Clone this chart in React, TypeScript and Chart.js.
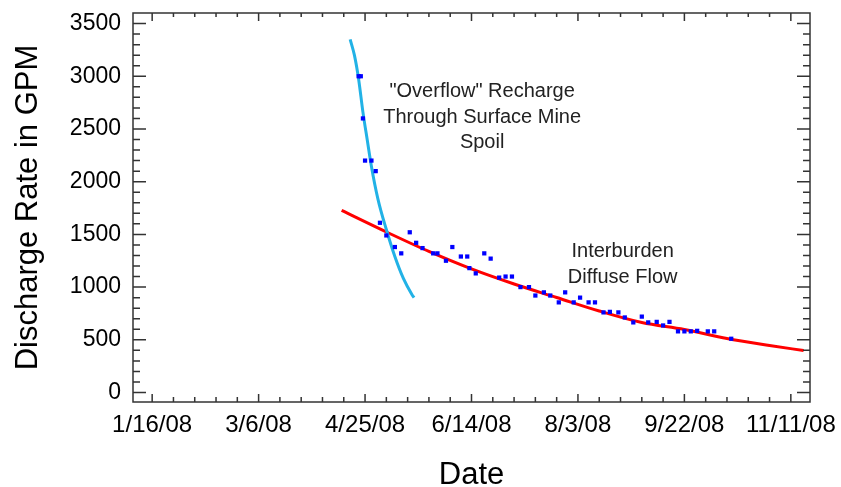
import React, { useEffect, useRef } from "react";
import { Chart, registerables } from "chart.js";

Chart.register(...registerables);

// Measured discharge (date, GPM)
const measuredDates = [
  "2008-04-22", "2008-04-23", "2008-04-24", "2008-04-25", "2008-04-28", "2008-04-30",
  "2008-05-02", "2008-05-05", "2008-05-09", "2008-05-12", "2008-05-16", "2008-05-19",
  "2008-05-22", "2008-05-27", "2008-05-29", "2008-06-02", "2008-06-05", "2008-06-09",
  "2008-06-12", "2008-06-13", "2008-06-16", "2008-06-20", "2008-06-23", "2008-06-27",
  "2008-06-30", "2008-07-03", "2008-07-07", "2008-07-11", "2008-07-14", "2008-07-18",
  "2008-07-21", "2008-07-25", "2008-07-28", "2008-08-01", "2008-08-04", "2008-08-08",
  "2008-08-11", "2008-08-15", "2008-08-18", "2008-08-22", "2008-08-25", "2008-08-29",
  "2008-09-02", "2008-09-05", "2008-09-09", "2008-09-12", "2008-09-15", "2008-09-19",
  "2008-09-22", "2008-09-25", "2008-09-28", "2008-10-03", "2008-10-06", "2008-10-14",
];
const measuredGPM = [
  3000, 3000, 2600, 2200, 2200, 2100,
  1610, 1490, 1380, 1320, 1520, 1420,
  1370, 1320, 1320, 1250, 1380, 1290,
  1290, 1180, 1130, 1320, 1270, 1090,
  1100, 1100, 1000, 1000, 920, 950,
  920, 855, 950, 855, 900, 855,
  855, 760, 765, 760, 712, 665,
  720, 665, 670, 636, 670, 580,
  580, 580, 585, 580, 580, 510,
];

// "Overflow" recharge fit curve (cyan)
const overflowFitDates = [
  "2008-04-18", "2008-04-20", "2008-04-22", "2008-04-24", "2008-04-26", "2008-04-28",
  "2008-05-01", "2008-05-05", "2008-05-09", "2008-05-13", "2008-05-17", "2008-05-18",
];
const overflowFitGPM = [3350, 3200, 2970, 2660, 2400, 2145, 1840, 1546, 1290, 1082, 930, 900];

// Interburden diffuse flow fit curve (red)
const interburdenFitDates = [
  "2008-04-14", "2008-05-05", "2008-05-25", "2008-06-14", "2008-07-04", "2008-07-24",
  "2008-08-13", "2008-09-02", "2008-09-22", "2008-10-12", "2008-11-01", "2008-11-17",
];
const interburdenFitGPM = [1727, 1523, 1338, 1172, 1029, 901, 773, 664, 598, 512, 446, 398];

// Axes
const xTickDates = ["2008-01-16", "2008-03-06", "2008-04-25", "2008-06-14", "2008-08-03", "2008-09-22", "2008-11-11"];
const xAxisMinDate = "2008-01-07";
const xAxisMaxDate = "2008-11-20";
const yTickValues = [0, 500, 1000, 1500, 2000, 2500, 3000, 3500];
const yAxisMin = -90;
const yAxisMax = 3600;

const overflowLabel = ['"Overflow" Recharge', "Through Surface Mine", "Spoil"];
const overflowLabelAnchor = { date: "2008-06-19", gpm: 2800 };
const interburdenLabel = ["Interburden", "Diffuse Flow"];
const interburdenLabelAnchor = { date: "2008-08-24", gpm: 1285 };

const toDay = (s: string) => {
  const [y, m, d] = s.split("-").map(Number);
  return Date.UTC(y, m - 1, d) / 86400000;
};
const fmtDay = (v: number) => {
  const dt = new Date(Math.round(v) * 86400000);
  const yy = String(dt.getUTCFullYear() % 100).padStart(2, "0");
  return `${dt.getUTCMonth() + 1}/${dt.getUTCDate()}/${yy}`;
};

const FONT = '"Liberation Sans", Arial, sans-serif';

const framePlugin = {
  id: "frameTicks",
  afterDatasetsDraw(chart: any) {
    const { ctx, chartArea: a, scales } = chart;
    const xs = scales.x;
    const ys = scales.y;
    ctx.save();
    ctx.strokeStyle = "#333";
    ctx.lineWidth = 1.5;
    ctx.strokeRect(a.left, a.top, a.right - a.left, a.bottom - a.top);
    ctx.beginPath();
    // x ticks (every 10 days, major every 50 days)
    const first = toDay(xTickDates[0]);
    const xmin = toDay(xAxisMinDate);
    const xmax = toDay(xAxisMaxDate);
    const startK = Math.ceil((xmin - first) / 10);
    const endK = Math.floor((xmax - first) / 10);
    for (let k = startK; k <= endK; k++) {
      const px = xs.getPixelForValue(first + k * 10);
      const major = k % 5 === 0;
      ctx.moveTo(px, a.bottom);
      ctx.lineTo(px, a.bottom - (major ? 8 : 5));
      ctx.moveTo(px, a.top);
      ctx.lineTo(px, a.top + (major ? 8 : 4));
    }
    // y ticks (every 100, major every 500)
    for (let v = 0; v <= yAxisMax; v += 100) {
      const py = ys.getPixelForValue(v);
      if (py < a.top + 1) continue;
      const major = v % 500 === 0;
      const len = major ? 13 : 7;
      ctx.moveTo(a.left, py);
      ctx.lineTo(a.left + len, py);
      ctx.moveTo(a.right, py);
      ctx.lineTo(a.right - len, py);
    }
    ctx.stroke();
    ctx.restore();
  },
  afterDraw(chart: any) {
    const { ctx, scales } = chart;
    const xs = scales.x;
    const ys = scales.y;
    ctx.save();
    ctx.fillStyle = "#222";
    ctx.font = `20px ${FONT}`;
    ctx.textAlign = "center";
    ctx.textBaseline = "alphabetic";
    let cx = xs.getPixelForValue(toDay(overflowLabelAnchor.date));
    let cy = ys.getPixelForValue(overflowLabelAnchor.gpm);
    overflowLabel.forEach((t, i) => ctx.fillText(t, cx, cy + i * 25.5));
    cx = xs.getPixelForValue(toDay(interburdenLabelAnchor.date));
    cy = ys.getPixelForValue(interburdenLabelAnchor.gpm);
    interburdenLabel.forEach((t, i) => ctx.fillText(t, cx, cy + i * 26));
    ctx.restore();
  },
};

export default function App() {
  const ref = useRef<HTMLCanvasElement | null>(null);
  useEffect(() => {
    if (!ref.current) return;
    const points = measuredDates.map((d, i) => ({ x: toDay(d), y: measuredGPM[i] }));
    const cyan = overflowFitDates.map((d, i) => ({ x: toDay(d), y: overflowFitGPM[i] }));
    const red = interburdenFitDates.map((d, i) => ({ x: toDay(d), y: interburdenFitGPM[i] }));
    const xTicks = xTickDates.map(toDay);
    const chart = new Chart(ref.current, {
      type: "scatter",
      data: {
        datasets: [
          {
            type: "scatter",
            data: points,
            pointStyle: "rect",
            pointRadius: 3,
            pointBorderWidth: 0,
            backgroundColor: "#0000FF",
            borderColor: "#0000FF",
          } as any,
          {
            type: "line",
            data: cyan,
            borderColor: "#22B2E6",
            borderWidth: 3,
            pointRadius: 0,
            tension: 0.4,
            cubicInterpolationMode: "monotone",
            fill: false,
          } as any,
          {
            type: "line",
            data: red,
            borderColor: "#FF0000",
            borderWidth: 3,
            pointRadius: 0,
            tension: 0.4,
            cubicInterpolationMode: "monotone",
            fill: false,
          } as any,
        ],
      },
      options: {
        responsive: false,
        animation: false,
        layout: { padding: { top: 13, right: 31, left: 0, bottom: 0 } },
        plugins: { legend: { display: false }, tooltip: { enabled: false } },
        scales: {
          x: {
            type: "linear",
            min: toDay(xAxisMinDate),
            max: toDay(xAxisMaxDate),
            grid: { display: false, drawTicks: false },
            border: { display: false },
            afterBuildTicks: (s: any) => {
              s.ticks = xTicks.map((v) => ({ value: v }));
            },
            afterFit: (s: any) => {
              s.height = 85;
              s.paddingLeft = 0;
              s.paddingRight = 0;
            },
            ticks: {
              autoSkip: false,
              maxRotation: 0,
              padding: 9,
              color: "#000",
              font: { family: FONT, size: 24 },
              callback: (v: any) => fmtDay(Number(v)),
            },
            title: {
              display: true,
              text: "Date",
              color: "#000",
              font: { family: FONT, size: 31 },
              padding: { top: 0, bottom: -7 },
            },
          },
          y: {
            type: "linear",
            min: yAxisMin,
            max: yAxisMax,
            grid: { display: false, drawTicks: false },
            border: { display: false },
            afterBuildTicks: (s: any) => {
              s.ticks = yTickValues.map((v) => ({ value: v }));
            },
            afterFit: (s: any) => {
              s.width = 133;
              s.paddingTop = 0;
              s.paddingBottom = 0;
            },
            ticks: {
              autoSkip: false,
              padding: 12,
              color: "#000",
              font: { family: FONT, size: 23 },
              callback: (v: any) => String(v),
            },
            title: {
              display: true,
              text: "Discharge Rate in GPM",
              color: "#000",
              font: { family: FONT, size: 31 },
              padding: { top: 10, bottom: 0 },
            },
          },
        },
      } as any,
      plugins: [framePlugin],
    });
    return () => chart.destroy();
  }, []);
  return (
    <div style={{ position: "fixed", left: 0, top: 0, width: 841, height: 487, background: "#fff" }}>
      <canvas ref={ref} width={841} height={487} style={{ display: "block" }} />
    </div>
  );
}
